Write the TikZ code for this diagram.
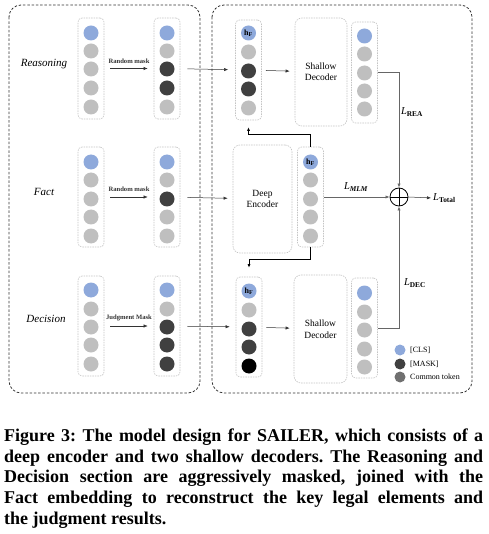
\documentclass[tikz,border=0pt]{standalone}
\usepackage{fontspec}
\setmainfont{Liberation Serif}
\usetikzlibrary{arrows.meta}
\definecolor{clsblue}{HTML}{8EA9DB}
\definecolor{tokgray}{HTML}{BFBFBF}
\definecolor{mskdark}{HTML}{404040}
\definecolor{comgray}{HTML}{707070}
\definecolor{boxgray}{HTML}{C4C4C4}
\newcommand\mytokcol[5]{%
  \node[colbox, minimum height={#4-#3}] (#1) at (#2,{(#3+#4)/2}) {};
  \foreach \yy/\st [count=\i] in {#5} {\node[\st] (#1-\i) at (#2,\yy) {};}%
}
\frenchspacing
\begin{document}
\begin{tikzpicture}[x=1pt,y=-1pt,
  panel/.style={draw=black!80, line width=0.8pt, dash pattern=on 2.5pt off 1.8pt, rounded corners=12pt},
  colbox/.style={draw=boxgray, line width=0.6pt, dash pattern=on 1.5pt off 1pt, rounded corners=4pt, minimum width=26pt, inner sep=0},
  modbox/.style={draw=boxgray, line width=0.6pt, dash pattern=on 1.5pt off 1pt, rounded corners=7pt, inner sep=0, align=center, font=\rmfamily\fontsize{9.5}{11.5}\selectfont},
  tok/.style={circle, minimum size=15pt, inner sep=0},
  cls/.style={tok, fill=clsblue}, gry/.style={tok, fill=tokgray},
  msk/.style={tok, fill=mskdark}, blk/.style={tok, fill=black},
  hflab/.style={font=\rmfamily\bfseries\fontsize{8}{9}\selectfont, inner sep=0},
  arr/.style={-{Latex[length=4pt,width=3.2pt]}, line width=0.5pt, black!80},
  thk/.style={-{Latex[length=3.5pt,width=3pt]}, line width=0.8pt, black},
  glin/.style={line width=0.6pt, black!60},
  rowlab/.style={font=\rmfamily\itshape\fontsize{11}{13}\selectfont},
  masklab/.style={font=\rmfamily\bfseries\fontsize{6.6}{8}\selectfont, inner sep=0},
  losslab/.style={font=\rmfamily\fontsize{10.5}{12}\selectfont, inner sep=0},
  leglab/.style={font=\rmfamily\fontsize{8}{9}\selectfont, anchor=west, inner sep=0},
  legdot/.style={circle, minimum size=11pt, inner sep=0},
  caplab/.style={font=\rmfamily\bfseries\fontsize{18}{20.8}\selectfont, anchor=base west, inner sep=0}
]
\useasboundingbox (0,0) rectangle (488,534);

% panels
\draw[panel] (9,5) rectangle (200,393);
\draw[panel] (212,5) rectangle (472,393);

% row labels
\node[rowlab] (lrea) at (44,64) {Reasoning};
\node[rowlab] (lfac) at (44,192) {Fact};
\node[rowlab] (ldec) at (46,319) {Decision};

% left columns
\mytokcol{r1}{91}{18}{119}{33/cls,51/gry,69/gry,88/gry,107/gry}
\mytokcol{r2}{167}{18}{119}{33/cls,51/gry,69/msk,88/msk,107/gry}
\mytokcol{f1}{91}{147}{247}{162/cls,180/gry,199/gry,217/gry,236/gry}
\mytokcol{f2}{167}{147}{247}{162/cls,180/gry,199/msk,217/gry,236/gry}
\mytokcol{d1}{91}{276}{376}{290/cls,309/gry,327/gry,345/gry,364/gry}
\mytokcol{d2}{167}{276}{376}{290/cls,309/gry,327/msk,345/msk,364/msk}

% masking arrows
\draw[arr, shorten <=6pt, shorten >=6pt] (r1) -- node[masklab, above=5pt] {Random mask} (r2);
\draw[arr, shorten <=6pt, shorten >=6pt] (f1) -- node[masklab, above=5pt] {Random mask} (f2);
\draw[arr, shorten <=6pt, shorten >=6pt] (d1) -- node[masklab, above=5pt] {Judgment Mask} (d2);

% right side: reasoning branch
\mytokcol{ri}{248.5}{20}{120}{33/cls,52/gry,71/msk,89/msk,108/gry}
\node[hflab] (hf1) at (ri-1) {h\textsubscript{F}};
\node[modbox, minimum width=52pt, minimum height=108pt] (rdec) at (321,72) {Shallow\\Decoder};
\mytokcol{ro}{364.5}{22}{123}{36/cls,54/gry,73/gry,91/gry,109/gry}

% encoder
\node[modbox, minimum width=59pt, minimum height=108pt] (enc) at (262.5,199) {Deep\\Encoder};
\mytokcol{eo}{310.5}{147}{247}{162/cls,180/gry,199/gry,217/gry,236/gry}
\node[hflab] (hf2) at (eo-1) {h\textsubscript{F}};

% decision branch
\mytokcol{di}{249}{277}{377}{291/cls,310/gry,329/msk,347/msk,366/blk}
\node[hflab] (hf3) at (di-1) {h\textsubscript{F}};
\node[modbox, minimum width=53pt, minimum height=108pt] (ddec) at (320.5,329) {Shallow\\Decoder};
\mytokcol{do}{364.5}{278}{378}{293/cls,312/gry,330/gry,349/gry,367/gry}

% cross-panel arrows
\draw[arr, shorten <=7pt, shorten >=7pt] (r2) -- (ri);
\draw[arr, shorten <=7pt, shorten >=5pt] (f2) -- (enc);
\draw[arr, shorten <=7pt, shorten >=6pt] (d2) -- (di);

% inner arrows
\draw[arr, shorten <=4pt, shorten >=5pt] (ri) -- (rdec);
\draw[arr, shorten <=4pt, shorten >=4pt] (di) -- (ddec);

% feedback connectors
\coordinate (k1) at (248.5,134);
\coordinate (k2) at (249,259);
\draw[thk, shorten >=7pt] (eo.north) |- (k1) -- (ri.south);
\draw[thk, shorten >=9pt] (eo.south) |- (k2) -- (di.north);

% loss combination
\node[circle, draw, line width=0.8pt, minimum size=18pt, inner sep=0] (op) at (399,197) {};
\draw[line width=0.8pt] (op.north) -- (op.south) (op.west) -- (op.east);
\draw[glin, -{Latex[length=4pt,width=3.2pt]}] (ro.east) -| (op.north);
\draw[glin, -{Latex[length=4pt,width=3.2pt]}] (do.east) -| (op.south);
\draw[glin, -{Latex[length=4pt,width=3.2pt]}] (eo.east) -- (op.west);
\node[losslab, anchor=west] (ltot) at (433,198) {\textit{L}\textsubscript{\bfseries Total}};
\draw[arr, shorten >=2pt] (op.east) -- (ltot.west);
\node[losslab] (lrea2) at (412,112) {\textit{L}\textsubscript{\bfseries REA}};
\node[losslab] (ldec2) at (415,283) {\textit{L}\textsubscript{\bfseries DEC}};
\node[losslab] (lmlm) at (356,187) {\textit{L}\textsubscript{\bfseries\itshape MLM}};

% legend
\node[legdot, fill=clsblue] (g1) at (400,350) {};
\node[legdot, fill=mskdark] (g2) at (400,364) {};
\node[legdot, fill=comgray] (g3) at (400,377) {};
\node[leglab] (t1) at (410,350) {[CLS]};
\node[leglab] (t2) at (410,364) {[MASK]};
\node[leglab] (t3) at (410,377) {Common token};

% caption
\node[caplab] (c1) at (4,441) {\makebox[479pt][s]{Figure 3: The model design for SAILER, which consists of a}};
\node[caplab] (c2) at (4,462) {\makebox[479pt][s]{deep encoder and two shallow decoders. The Reasoning and}};
\node[caplab] (c3) at (4,482.5) {\makebox[479pt][s]{Decision section are aggressively masked, joined with the}};
\node[caplab] (c4) at (4,503) {\makebox[479pt][s]{Fact embedding to reconstruct the key legal elements and}};
\node[caplab] (c5) at (4,524) {the judgment results.};
\end{tikzpicture}
\end{document}
